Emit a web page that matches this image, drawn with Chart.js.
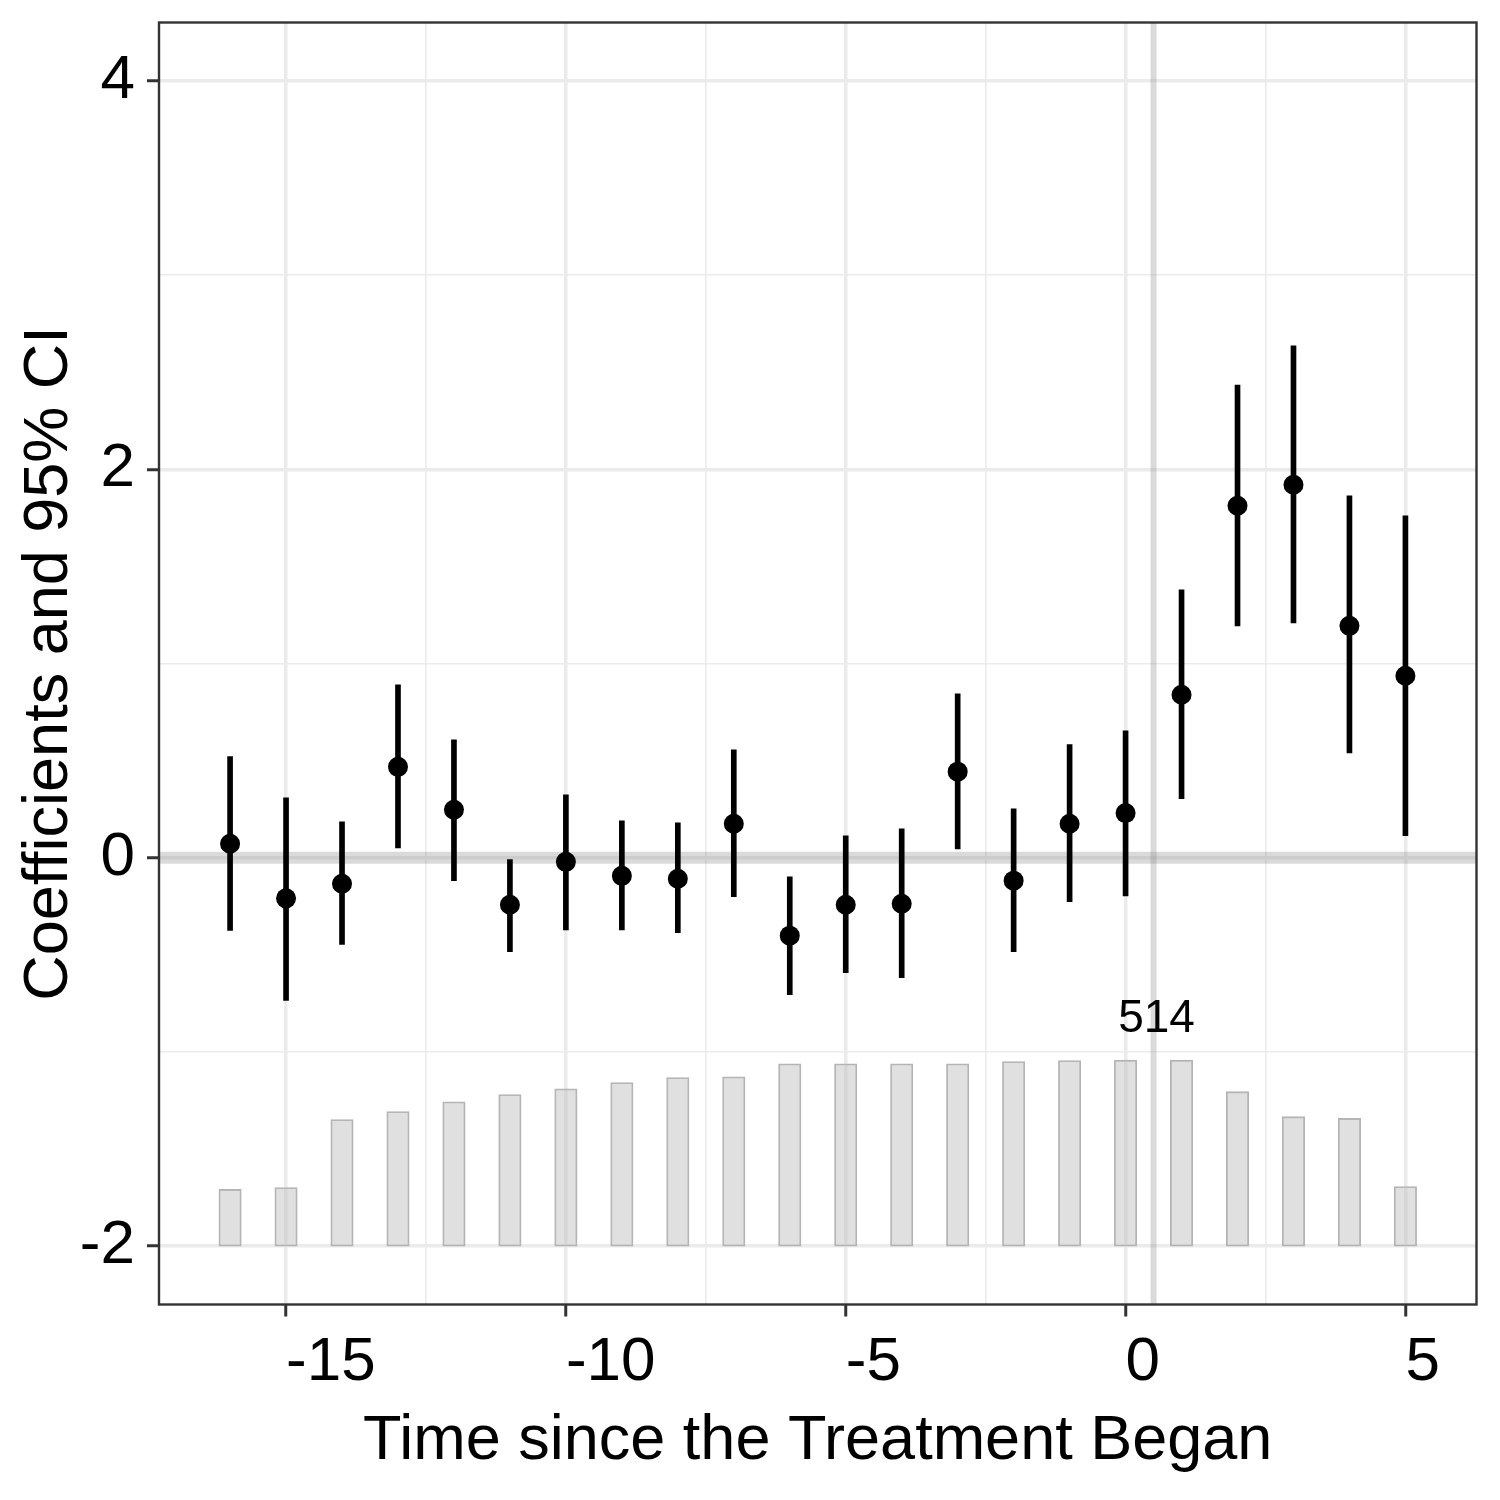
<!DOCTYPE html>
<html>
<head>
<meta charset="utf-8">
<script src="https://cdn.jsdelivr.net/npm/chart.js@4.4.1/dist/chart.umd.min.js"></script>
<style>
html, body { margin: 0; padding: 0; background: #ffffff; }
canvas { display: block; }
</style>
</head>
<body>
<canvas id="chart" width="1500" height="1500"></canvas>
<script>
// ---------------- data ----------------
const times   = [-16, -15, -14, -13, -12, -11, -10, -9, -8, -7, -6, -5, -4, -3, -2, -1, 0, 1, 2, 3, 4, 5];
const coef    = [0.072, -0.209, -0.134, 0.468, 0.247, -0.242, -0.021, -0.093, -0.108, 0.175, -0.401, -0.242, -0.237, 0.443, -0.118, 0.175, 0.230, 0.839, 1.812, 1.920, 1.194, 0.937];
const ciUpper = [0.521, 0.309, 0.185, 0.890, 0.607, 0.000, 0.324, 0.190, 0.180, 0.556, -0.098, 0.113, 0.149, 0.844, 0.252, 0.582, 0.654, 1.379, 2.434, 2.635, 1.863, 1.760];
const ciLower = [-0.374, -0.734, -0.446, 0.051, -0.118, -0.484, -0.371, -0.371, -0.386, -0.201, -0.705, -0.592, -0.618, 0.046, -0.484, -0.226, -0.196, 0.304, 1.194, 1.209, 0.540, 0.113];
const counts  = [157, 162, 350, 372, 399, 419, 435, 452, 466, 468, 504, 504, 504, 504, 510, 513, 514, 514, 427, 358, 353, 165];
const xTicks  = [-15, -10, -5, 0, 5];
const yTicks  = [-2, 0, 2, 4];
const xTitle  = 'Time since the Treatment Began';
const yTitle  = 'Coefficients and 95% CI';
const refLineY = 0;        // horizontal reference line
const treatLineX = 0.5;    // vertical line marking treatment onset

// ---------------- layout / derived ----------------
const xMin = -17.27, xMax = 6.27, yMin = -2.3, yMax = 4.3;
const barBase = -2;          // count bars start at this y value
const barMaxHeight = 0.958;  // height (y units) of the tallest count bar
const maxCount = Math.max(...counts);
const barTop = counts.map(c => barBase + c / maxCount * barMaxHeight);
const maxTimes = times.filter((t, i) => counts[i] === maxCount);
const maxLabelX = maxTimes.reduce((a, b) => a + b, 0) / maxTimes.length;

function withMinor(major) {
  const out = [];
  for (let i = 0; i < major.length; i++) {
    out.push(major[i]);
    if (i < major.length - 1) out.push((major[i] + major[i + 1]) / 2);
  }
  return out;
}
const xAllTicks = withMinor(xTicks);
const yAllTicks = withMinor(yTicks);

const FONT = "'Liberation Sans', Arial, Helvetica, sans-serif";
Chart.defaults.font.family = FONT;
Chart.defaults.color = '#000000';

const framePlugin = {
  id: 'frame',
  afterDatasetsDraw(chart) {
    const { ctx, chartArea: a, scales } = chart;
    // count label above the tallest bar
    ctx.save();
    ctx.fillStyle = '#000000';
    ctx.font = '46px ' + FONT;
    ctx.textAlign = 'center';
    ctx.textBaseline = 'alphabetic';
    ctx.fillText(String(maxCount), scales.x.getPixelForValue(maxLabelX) + 3,
                 scales.y.getPixelForValue(barBase + barMaxHeight) - 28);
    ctx.restore();
    // panel border
    ctx.save();
    ctx.strokeStyle = '#333333';
    ctx.lineWidth = 2.4;
    ctx.strokeRect(a.left, a.top, a.right - a.left, a.bottom - a.top);
    ctx.restore();
  }
};

new Chart(document.getElementById('chart'), {
  type: 'bar',
  data: {
    datasets: [
      {
        type: 'line',
        data: [{ x: xMin, y: refLineY }, { x: xMax, y: refLineY }],
        borderColor: 'rgba(131,131,131,0.3)',
        borderWidth: 12,
        pointRadius: 0,
        order: 6
      },
      {
        type: 'line',
        data: [{ x: treatLineX, y: yMin }, { x: treatLineX, y: yMax }],
        borderColor: 'rgba(131,131,131,0.3)',
        borderWidth: 6,
        pointRadius: 0,
        order: 5
      },
      {
        type: 'bar',
        data: times.map((t, i) => ({ x: t, y: [barBase, barTop[i]] })),
        backgroundColor: 'rgba(193,193,193,0.5)',
        borderColor: '#b3b3b3',
        borderWidth: 1.2,
        borderSkipped: false,
        barThickness: 22.4,
        grouped: false,
        order: 4
      },
      {
        type: 'bar',
        data: times.map((t, i) => ({ x: t, y: [ciLower[i], ciUpper[i]] })),
        backgroundColor: '#000000',
        borderWidth: 0,
        barThickness: 5,
        grouped: false,
        order: 2
      },
      {
        type: 'scatter',
        data: times.map((t, i) => ({ x: t, y: coef[i] })),
        backgroundColor: '#000000',
        borderWidth: 0,
        pointRadius: 10,
        order: 1
      }
    ]
  },
  options: {
    responsive: false,
    animation: false,
    devicePixelRatio: 1,
    layout: { padding: { top: 22.5, right: 23.5, left: 0, bottom: 0 } },
    plugins: { legend: { display: false }, tooltip: { enabled: false } },
    scales: {
      x: {
        type: 'linear',
        min: xMin,
        max: xMax,
        offset: false,
        afterBuildTicks: s => { s.ticks = xAllTicks.map(v => ({ value: v })); },
        afterFit: s => { s.height = 195.5; s.paddingLeft = 0; s.paddingRight = 0; },
        border: { display: false },
        grid: {
          offset: false,
          color: '#ebebeb',
          lineWidth: c => (c.tick && xTicks.includes(c.tick.value)) ? 3.5 : 1.6,
          drawTicks: true,
          tickLength: 12,
          tickWidth: 3,
          tickColor: c => (c.tick && xTicks.includes(c.tick.value)) ? '#333333' : 'rgba(0,0,0,0)'
        },
        ticks: {
          autoSkip: false,
          maxRotation: 0,
          align: 'start',
          padding: 9,
          color: '#000000',
          font: { size: 62 },
          callback: v => xTicks.includes(v) ? String(v) : ''
        },
        title: {
          display: true,
          text: xTitle,
          color: '#000000',
          font: { size: 63 },
          padding: { top: 0, bottom: 21 }
        }
      },
      y: {
        type: 'linear',
        min: yMin,
        max: yMax,
        afterBuildTicks: s => { s.ticks = yAllTicks.map(v => ({ value: v })); },
        afterFit: s => { s.width = 159; s.paddingTop = 0; s.paddingBottom = 0; },
        border: { display: false },
        grid: {
          color: '#ebebeb',
          lineWidth: c => (c.tick && yTicks.includes(c.tick.value)) ? 3.5 : 1.6,
          drawTicks: true,
          tickLength: 12,
          tickWidth: 3,
          tickColor: c => (c.tick && yTicks.includes(c.tick.value)) ? '#333333' : 'rgba(0,0,0,0)'
        },
        ticks: {
          autoSkip: false,
          padding: 12,
          color: '#000000',
          font: { size: 62 },
          callback: v => yTicks.includes(v) ? String(v) : ''
        },
        title: {
          display: true,
          text: yTitle,
          color: '#000000',
          font: { size: 63 },
          padding: { top: 12, bottom: 0 }
        }
      }
    }
  },
  plugins: [framePlugin]
});
</script>
</body>
</html>
